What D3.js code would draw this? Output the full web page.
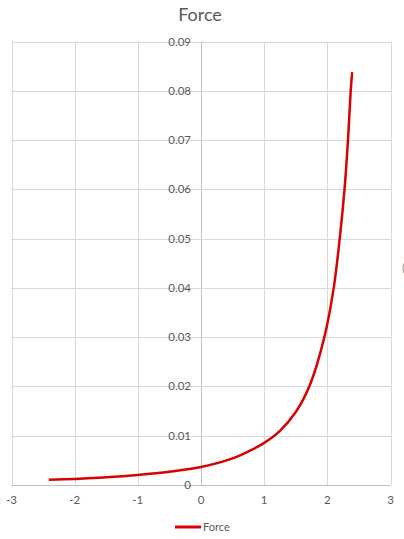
<!DOCTYPE html>
<html>
<head>
<meta charset="utf-8">
<script src="https://cdn.jsdelivr.net/npm/d3@7"></script>
<style>
  body { margin: 0; background: #fff; }
  svg { display: block; font-family: Lato, "Open Sans", sans-serif; }
</style>
</head>
<body>
<div id="chart-area"></div>
<script>
// values
var xVals = [-2.41, -2, -1.5, -1, -0.5, 0, 0.5, 0.75, 1, 1.25, 1.5, 1.727, 1.953, 2.101, 2.196, 2.272, 2.327, 2.37, 2.393];
var force = [0.00105, 0.00124, 0.00157, 0.00205, 0.0027, 0.00365, 0.0054, 0.0068, 0.00855, 0.0110, 0.0148, 0.0204, 0.030, 0.040, 0.050, 0.060, 0.070, 0.080, 0.0838];
var xTicks = [-3, -2, -1, 0, 1, 2, 3];
var yTicks = [0, 0.01, 0.02, 0.03, 0.04, 0.05, 0.06, 0.07, 0.08, 0.09];
var seriesName = "Force";

var width = 404, height = 539;

var svg = d3.select("#chart-area").append("svg")
    .attr("width", width)
    .attr("height", height);

var x = d3.scaleLinear()
    .domain([-3, 3])
    .range([11.5, 390.5]);

var y = d3.scaleLinear()
    .domain([0, 0.09])
    .range([485, 41.5]);

// gridlines
svg.append("g").selectAll("line.v")
    .data(xTicks)
    .enter()
    .append("line")
    .attr("x1", d => Math.round(x(d)) + 0.5)
    .attr("x2", d => Math.round(x(d)) + 0.5)
    .attr("y1", y(0.09))
    .attr("y2", y(0))
    .attr("stroke", d => d === 0 ? "#bfbfbf" : "#d9d9d9");

svg.append("g").selectAll("line.h")
    .data(yTicks)
    .enter()
    .append("line")
    .attr("x1", x(-3))
    .attr("x2", x(3))
    .attr("y1", d => Math.round(y(d)) + 0.5)
    .attr("y2", d => Math.round(y(d)) + 0.5)
    .attr("stroke", d => d === 0 ? "#bfbfbf" : "#d9d9d9");

// y labels sit left of the zero line
svg.append("g").selectAll("text")
    .data(yTicks)
    .enter()
    .append("text")
    .attr("x", x(0) - 10)
    .attr("y", d => y(d) + 4)
    .attr("text-anchor", "end")
    .attr("font-size", 11.5)
    .attr("fill", "#595959")
    .text(d => d === 0 ? "0" : d3.format(".2f")(d));

// x labels
svg.append("g").selectAll("text")
    .data(xTicks)
    .enter()
    .append("text")
    .attr("x", d => x(d))
    .attr("y", y(0) + 19)
    .attr("text-anchor", "middle")
    .attr("font-size", 11.5)
    .attr("fill", "#595959")
    .text(d => d);

// curve
var pts = xVals.map((v, i) => [v, force[i]]);
var line = d3.line()
    .x(d => x(d[0]))
    .y(d => y(d[1]))
    .curve(d3.curveCatmullRom.alpha(0.5));

svg.append("path")
    .datum(pts)
    .attr("d", line)
    .attr("fill", "none")
    .attr("stroke", "#d80000")
    .attr("stroke-width", 2.5)
    .attr("stroke-linejoin", "round");

// title
svg.append("text")
    .attr("x", 200)
    .attr("y", 21)
    .attr("text-anchor", "middle")
    .attr("font-size", 18)
    .attr("fill", "#595959")
    .text(seriesName);

// legend
svg.append("line")
    .attr("x1", 175)
    .attr("x2", 201)
    .attr("y1", 527)
    .attr("y2", 527)
    .attr("stroke", "#d80000")
    .attr("stroke-width", 3);

svg.append("text")
    .attr("x", 203)
    .attr("y", 531)
    .attr("font-size", 11)
    .attr("fill", "#595959")
    .text(seriesName);

// clipped axis title stub at the right edge
svg.append("text")
    .attr("x", 402)
    .attr("y", 272)
    .attr("font-size", 11)
    .attr("fill", "#8c8c8c")
    .text("(");
</script>
</body>
</html>
